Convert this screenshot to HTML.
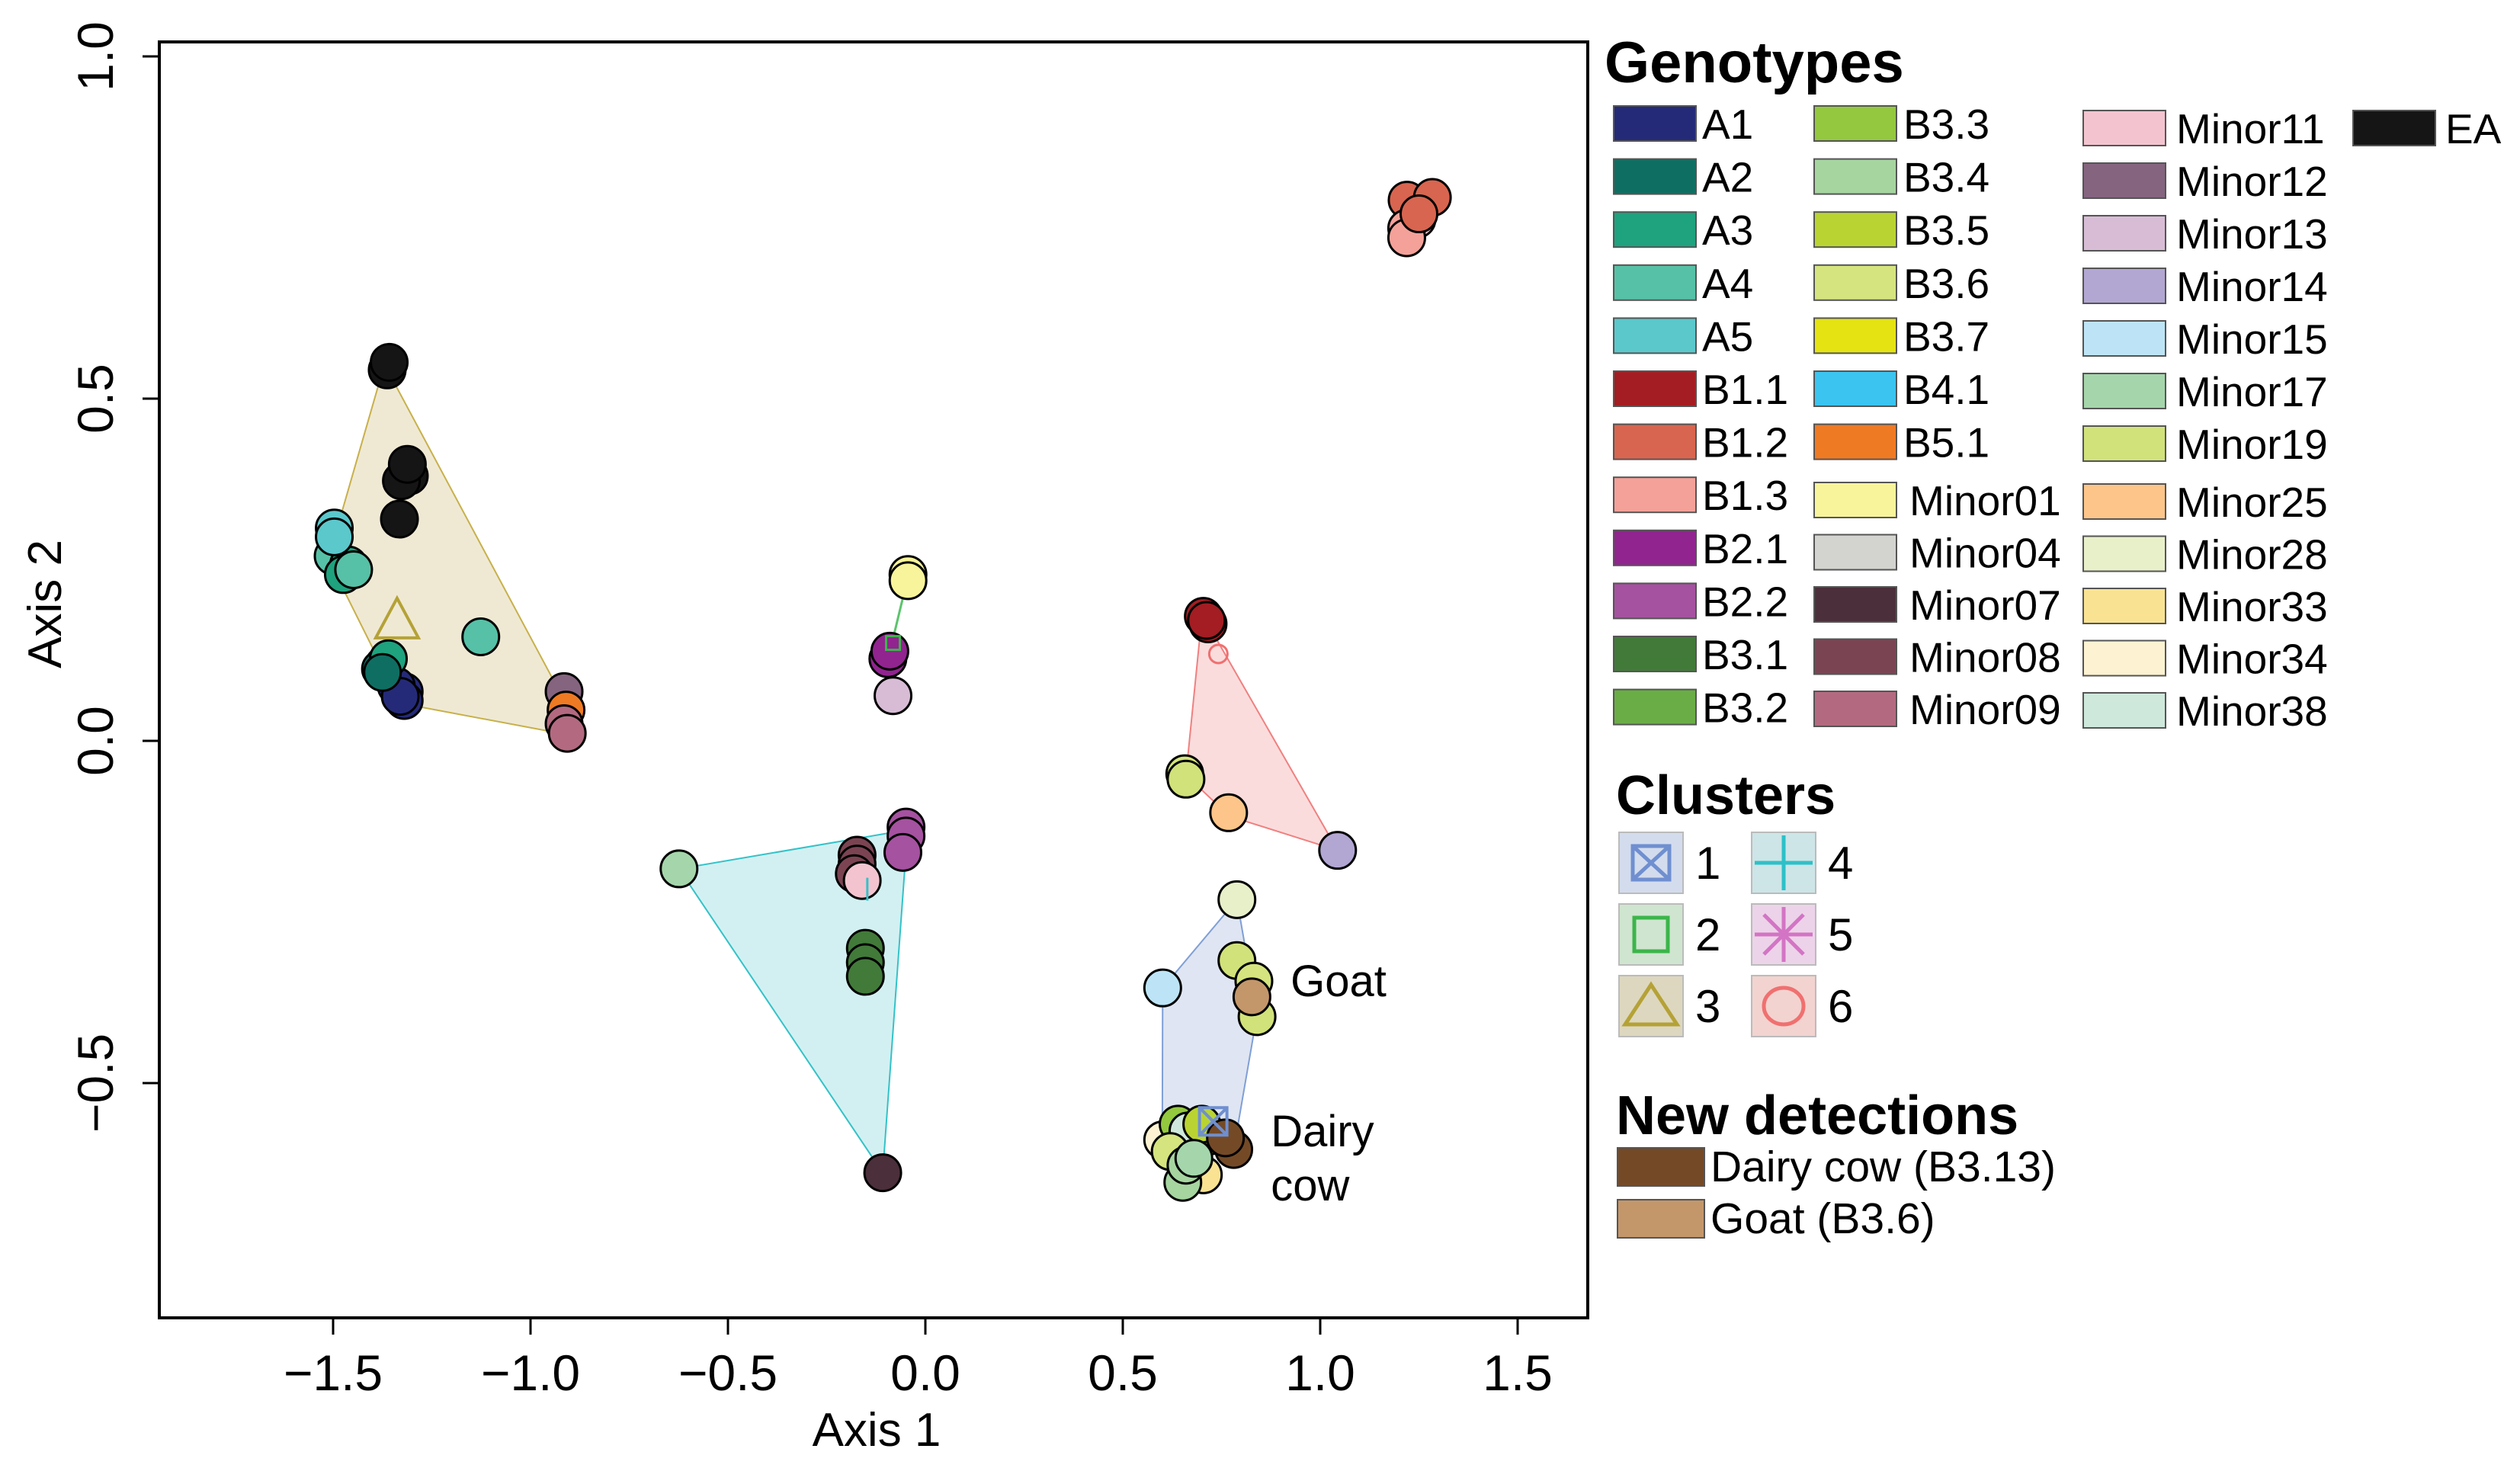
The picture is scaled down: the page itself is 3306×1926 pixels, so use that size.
<!DOCTYPE html>
<html><head><meta charset="utf-8"><style>
html,body{margin:0;padding:0;background:#fff;}
svg{display:block;font-family:"Liberation Sans",Arial,sans-serif;}
</style></head><body>
<svg id="chart" width="3306" height="1926" viewBox="0 0 3306 1926" xmlns="http://www.w3.org/2000/svg">
<g id="hulls"></g>
<g id="points"></g>
<g id="axes"></g>
<g id="legend"></g>
</svg>
<script>
const xTicks = [-1.5,-1.0,-0.5,0.0,0.5,1.0,1.5];
const yTicks = [1.0,0.5,0.0,-0.5];
const genoNames = ["A1","A2","A3","A4","A5","B1.1","B1.2","B1.3","B2.1","B2.2","B3.1","B3.2","B3.3","B3.4","B3.5","B3.6","B3.7","B4.1","B5.1","Minor01","Minor04","Minor07","Minor08","Minor09","Minor11","Minor12","Minor13","Minor14","Minor15","Minor17","Minor19","Minor25","Minor28","Minor33","Minor34","Minor38","EA","Dairy","Goat"];
const genoColors = ["#252a78","#0f6e62","#1fa27e","#56c1a6","#5bc8cc","#a31d22","#d8654f","#f4a199","#91248f","#a552a0","#427a3a","#6aad46","#93c83f","#a6d5a0","#b9d432","#d5e47e","#e5e312","#3ac4ef","#ef7a24","#f8f49b","#d3d3cf","#4b2f3a","#7b4453","#b36a80","#f3c4d0","#85647f","#d8bcd6","#b2a6d3","#bde4f6","#a5d6ab","#d1e27a","#fdc589","#e8f0c9","#f9e392","#fdf3d2","#cfe8dc","#151515","#744a26","#c3976a"];
// points: x, y, genotype index
const ptX = [1.22,1.284,1.245,1.219,1.219,1.25, -1.363,-1.358,-1.307,-1.327,-1.312,-1.332, -1.497,-1.5,-1.461,-1.474,-1.448,-1.497, -1.126, -1.32,-1.32,-1.34,-1.33, -1.371,-1.38,-1.36,-1.375, -0.915,-0.91,-0.915,-0.907, -0.044,-0.044,-0.095,-0.09,-0.082, -0.624,-0.173,-0.173,-0.18,-0.16,-0.049,-0.049,-0.057,-0.152,-0.152,-0.152,-0.108, 0.704,0.716,0.712,0.657,0.660,0.768,1.044, 0.789,0.601,0.789,0.832,0.840,0.827, 0.601,0.64,0.665,0.704,0.652,0.62,0.724,0.70,0.781,0.76,0.66,0.68];
const ptY = [0.79,0.794,0.762,0.749,0.735,0.77, 0.542,0.553,0.387,0.380,0.404,0.324, 0.311,0.270,0.257,0.243,0.250,0.298, 0.152, 0.072,0.059,0.08,0.065, 0.111,0.105,0.12,0.10, 0.072,0.045,0.025,0.011, 0.243,0.234,0.12,0.131,0.066, -0.187,-0.167,-0.18,-0.194,-0.204,-0.126,-0.139,-0.163,-0.303,-0.324,-0.344,-0.631, 0.182,0.171,0.176,-0.048,-0.056,-0.105,-0.16, -0.232,-0.361,-0.321,-0.351,-0.403,-0.374, -0.583,-0.56,-0.57,-0.634,-0.645,-0.60,-0.577,-0.56,-0.597,-0.58,-0.62,-0.61];
const ptG = [6,6,24,7,7,6, 36,36,36,36,36,36, 4,3,2,2,3,4, 3, 0,0,0,0, 1,1,2,1, 25,18,23,23, 19,19,8,8,26, 29,22,22,22,24,9,9,9,10,10,10,21, 5,5,5,15,30,31,27, 32,28,30,15,30,38, 34,12,35,33,13,15,16,14,37,37,13,29];
// cluster hulls (data coords)
const hull3X=[-1.37,-0.92,-0.915,-1.33,-1.49,-1.505], hull3Y=[0.55,0.065,0.01,0.055,0.24,0.28];
const hull4X=[-0.624,-0.045,-0.108], hull4Y=[-0.187,-0.13,-0.631];
const hull6X=[0.70,0.66,0.77,1.044,0.716], hull6Y=[0.18,-0.05,-0.11,-0.16,0.17];
const hull1X=[0.789,0.601,0.60,0.78,0.84], hull1Y=[-0.232,-0.361,-0.59,-0.60,-0.40];
const hull2X=[-0.044,-0.09], hull2Y=[0.24,0.13];

const NS="http://www.w3.org/2000/svg";
const L=209,R=2083,T=55,B=1729;
function X(v){return 1214+v*518;}
function Y(v){return 972-v*898;}
function mk(tag,attrs,parent){const e=document.createElementNS(NS,tag);for(const k in attrs)e.setAttribute(k,attrs[k]);parent.appendChild(e);return e;}
const hulls=document.getElementById('hulls'),pts=document.getElementById('points'),axes=document.getElementById('axes'),leg=document.getElementById('legend');
function poly(xs,ys,fill,stroke,name){const p=mk('polygon',{points:xs.map((x,i)=>X(x)+','+Y(ys[i])).join(' '),fill:fill,stroke:stroke,'stroke-width':2},hulls);

}
poly(hull3X,hull3Y,'#efe9d4','#c8b04a','cluster-3-hull');
poly(hull4X,hull4Y,'#d2f0f2','#33c2c8','cluster-4-hull');
poly(hull6X,hull6Y,'#fbdcdc','#f08080','cluster-6-hull');
poly(hull1X,hull1Y,'#dfe5f2','#7f9fd6','cluster-1-hull');
const l2=mk('line',{x1:X(hull2X[0]),y1:Y(hull2Y[0]),x2:X(hull2X[1]),y2:Y(hull2Y[1]),stroke:'#5cc46c','stroke-width':3},hulls);


for(let i=0;i<ptX.length;i++){
 const c=mk('circle',{cx:X(ptX[i]),cy:Y(ptY[i]),r:24,fill:genoColors[ptG[i]],stroke:'#000','stroke-width':3},pts);
 
 
}
// cluster centroid markers
const tri=mk('polygon',{points:[[X(-1.338),Y(0.175)-30],[X(-1.338)-28,Y(0.175)+22],[X(-1.338)+28,Y(0.175)+22]].map(p=>p.join(',')).join(' '),fill:'none',stroke:'#b5a236','stroke-width':4},pts);


const sq=mk('rect',{x:X(-0.082)-9,y:Y(0.143)-9,width:18,height:18,fill:'none',stroke:'#3cb54a','stroke-width':3},pts);


const ci=mk('circle',{cx:X(0.742),cy:Y(0.127),r:12,fill:'none',stroke:'#f07070','stroke-width':3},pts);


const cr=mk('path',{d:`M${X(-0.147)},${Y(-0.20)}v30`,stroke:'#33c2c8','stroke-width':3},pts);


const bx=mk('path',{d:`M${X(0.729)-18},${Y(-0.556)-18}h36v36h-36zM${X(0.729)-18},${Y(-0.556)-18}l36,36M${X(0.729)+18},${Y(-0.556)-18}l-36,36`,fill:'none',stroke:'#6f8fd0','stroke-width':4},pts);


function txt(s,x,y,size,parent,name,extra){const t=mk('text',Object.assign({x:x,y:y,'font-size':size,fill:'#000'},extra||{}),parent);t.textContent=s;

return t;}
txt('Goat',X(0.925),Y(-0.351)+20,58,pts,'goat-annotation');
txt('Dairy',X(0.875),Y(-0.57)+20,58,pts,'dairy-annotation');
txt('cow',X(0.875),Y(-0.649)+20,58,pts,'cow-annotation');
// frame
const fr=mk('rect',{x:L,y:T,width:R-L,height:B-T,fill:'none',stroke:'#000','stroke-width':4},axes);


xTicks.forEach(v=>{
 const tk=mk('line',{x1:X(v),y1:B,x2:X(v),y2:B+22,stroke:'#000','stroke-width':3},axes);
 
 
 txt((v<0?'\u2212':'')+Math.abs(v).toFixed(1),X(v),1824,66,axes,'x-tick-label',{'text-anchor':'middle'});
});
const xl=mk('line',{x1:X(-1.5),y1:B,x2:X(1.5),y2:B,stroke:'#000','stroke-width':3},axes);


yTicks.forEach(v=>{
 const tk=mk('line',{x1:L-22,y1:Y(v),x2:L,y2:Y(v),stroke:'#000','stroke-width':3},axes);
 
 
 txt((v<0?'\u2212':'')+Math.abs(v).toFixed(1),0,0,66,axes,'y-tick-label',{'text-anchor':'middle',transform:`translate(148,${Y(v)}) rotate(-90)`});
});
txt('Axis 1',1150,1897,62,axes,'x-axis-title',{'text-anchor':'middle'});
txt('Axis 2',0,0,62,axes,'y-axis-title',{'text-anchor':'middle',transform:`translate(80,${Y(0.2)}) rotate(-90)`});
// legend
txt('Genotypes',2105,108,76,leg,'genotypes-legend-title',{'font-weight':'bold'});
function sw(x,y,w,h,col,name){const r=mk('rect',{x:x,y:y,width:w,height:h,fill:col,stroke:'#555','stroke-width':2},leg);

}
const LF=55;
for(let i=0;i<12;i++){const cy=162+i*69.6;sw(2117,cy-23,108,46,genoColors[i],'swatch-'+genoNames[i].toLowerCase());txt(genoNames[i],2233,cy+20,LF,leg,'legend-label');}
for(let i=12;i<19;i++){const cy=162+(i-12)*69.6;sw(2380,cy-23,108,46,genoColors[i],'swatch-'+genoNames[i].toLowerCase());txt(genoNames[i],2497,cy+20,LF,leg,'legend-label');}
for(let i=19;i<24;i++){const cy=656+(i-19)*68.5;sw(2380,cy-23,108,46,genoColors[i],'swatch-'+genoNames[i].toLowerCase());txt(genoNames[i],2505,cy+20,LF,leg,'legend-label');}
for(let i=24;i<31;i++){const cy=168+(i-24)*69;sw(2733,cy-23,108,46,genoColors[i],'swatch-'+genoNames[i].toLowerCase());txt(genoNames[i],2855,cy+20,LF,leg,'legend-label');}
for(let i=31;i<36;i++){const cy=658+(i-31)*68.5;sw(2733,cy-23,108,46,genoColors[i],'swatch-'+genoNames[i].toLowerCase());txt(genoNames[i],2855,cy+20,LF,leg,'legend-label');}
sw(3087,145,108,46,genoColors[36],'swatch-ea');txt('EA',3208,188,LF,leg,'legend-label');
// clusters
txt('Clusters',2120,1068,72,leg,'clusters-legend-title',{'font-weight':'bold'});
const clFill=['#d3dced','#cfe5cf','#ddd7bf','#cde5e7','#ecd3e9','#f2d3cf'];
const clStroke=['#6f8fd0','#3cb54a','#b5a236','#2ec0c8','#d374c4','#f07070'];
const clPos=[[2124,1092],[2124,1186],[2124,1280],[2298,1092],[2298,1186],[2298,1280]];
for(let i=0;i<6;i++){
 const [x,y]=clPos[i];
 const b=mk('rect',{x:x,y:y,width:84,height:80,fill:clFill[i],stroke:'#bbb','stroke-width':2},leg);
 
 
 const cx=x+42,cy=y+40,s=clStroke[i];let d;
 if(i==0)d=`M${cx-24},${cy-22}h48v44h-48zM${cx-24},${cy-22}l48,44M${cx+24},${cy-22}l-48,44`;
 if(i==1)d=`M${cx-22},${cy-22}h44v44h-44z`;
 if(i==2)d=`M${cx},${cy-28}L${cx+34},${cy+24}H${cx-34}z`;
 if(i==3)d=`M${cx-38},${cy}h76M${cx},${cy-36}v72`;
 if(i==4)d=`M${cx-38},${cy}h76M${cx},${cy-36}v72M${cx-26},${cy-26}l52,52M${cx+26},${cy-26}l-52,52`;
 if(i==5)d=`M${cx-26},${cy}a26,24 0 1,0 52,0a26,24 0 1,0 -52,0`;
 const p=mk('path',{d:d,fill:'none',stroke:s,'stroke-width':5},leg);
 
 
 txt(String(i+1),x+100,cy+21,60,leg,'cluster-label');
}
txt('New detections',2120,1488,72,leg,'new-detections-legend-title',{'font-weight':'bold'});
sw(2122,1506,114,50,genoColors[37],'swatch-dairy-cow');txt('Dairy cow (B3.13)',2244,1550,57,leg,'legend-label');
sw(2122,1574,114,50,genoColors[38],'swatch-goat');txt('Goat (B3.6)',2244,1618,57,leg,'legend-label');
</script>
</body></html>
